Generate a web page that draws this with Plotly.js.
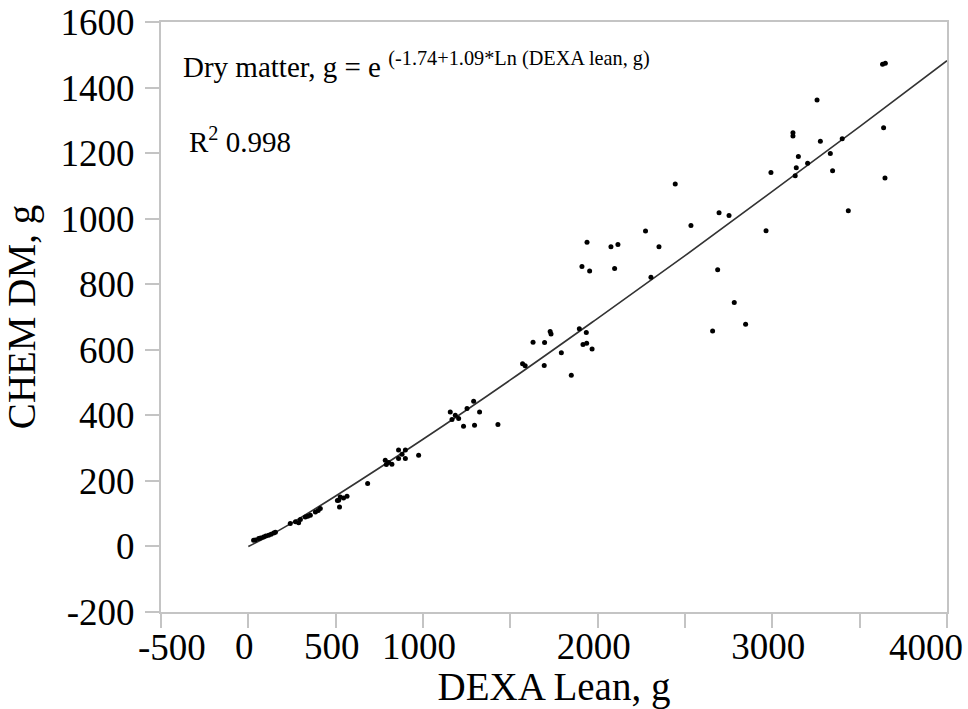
<!DOCTYPE html>
<html>
<head>
<meta charset="utf-8">
<script src="https://cdn.plot.ly/plotly-3.0.1.min.js"></script>
<style>html,body{margin:0;padding:0;background:#fff;}#chart{width:968px;height:709px;}</style>
</head>
<body>
<div id="chart"></div>
<script>
// Observed points: DEXA lean (g) vs chemical dry matter (g)
const dexaLean = [
  30, 40, 59, 70, 87, 100, 116, 130, 145, 155,
  240, 270, 288, 298, 326, 340, 355, 384, 400, 412,
  510, 517, 522, 526, 545, 565,
  683,
  784, 790, 803, 822,
  860, 899, 860, 899, 880,
  975,
  1156, 1166, 1185, 1204, 1232, 1252, 1290, 1295, 1324, 1429,
  1570, 1585, 1630, 1694, 1696, 1728, 1733, 1792, 1849, 1895, 1916, 1935, 1937, 1968,
  1910, 1939, 1954, 2076, 2097, 2116, 2274, 2305, 2351, 2444, 2534, 2658, 2687, 2695, 2752, 2782, 2847,
  2964, 2992, 3118, 3118, 3131, 3137, 3149, 3202, 3256, 3275, 3332, 3345, 3400, 3435, 3631, 3647, 3637, 3645
];
const chemDM = [
  19, 20, 24, 26, 29, 32, 34, 37, 41, 43,
  70, 75, 72, 82, 90, 92, 95, 105, 110, 116,
  140, 141, 120, 151, 148, 153,
  192,
  263, 250, 256, 251,
  294, 294, 268, 268, 281,
  278,
  410, 387, 400, 390, 367, 421, 443, 370, 410, 372,
  557, 551, 623, 552, 622, 656, 648, 591, 522, 664, 616, 653, 620, 602,
  854, 928, 840, 914, 848, 921, 962, 821, 914, 1106, 979, 657, 844, 1018, 1010, 744, 678,
  963, 1141, 1262, 1252, 1131, 1155, 1190, 1169, 1362, 1236, 1199, 1146, 1244, 1024, 1471, 1474, 1277, 1124
];
// Fitted curve as drawn in the figure
const fitX = [0, 100, 250, 500, 1000, 1500, 2000, 2500, 3000, 3500, 4000];
const fitY = [0, 27, 72, 154, 327, 508, 696, 887, 1083, 1281, 1482];

// x tick labels (the two end labels are nudged inward, as in the figure)
const xTickVals = [0, 500, 1000, 2000, 3000];
const xTickText = ['0', '500', '1000', '2000', '3000'];
const xEndLabelVals = [-500, 4000];
const xEndLabelText = ['-500', '4000'];
const yTickVals = [-200, 0, 200, 400, 600, 800, 1000, 1200, 1400, 1600];
const yTickText = ['-200', '0', '200', '400', '600', '800', '1000', '1200', '1400', '1600'];

const serif = "'Liberation Serif', 'Times New Roman', serif";
const gridGrey = '#c4c4c4';

const traces = [
  {
    x: fitX, y: fitY, type: 'scatter', mode: 'lines',
    line: {color: '#333333', width: 1.6, shape: 'spline'},
    hoverinfo: 'skip'
  },
  {
    x: dexaLean, y: chemDM, type: 'scatter', mode: 'markers',
    marker: {color: '#000000', size: 5}
  }
];

const axisCommon = {
  showgrid: false, zeroline: false,
  showline: true, linecolor: gridGrey, linewidth: 2, mirror: true,
  ticks: 'outside', ticklen: 14, tickcolor: gridGrey, tickwidth: 2,
  tickfont: {family: serif, size: 37, color: '#000'}
};

const endOffsets = [11, -21]; // px shift of end labels toward the inside
const endAnnotations = xEndLabelVals.map((v, i) => ({
  xref: 'x', yref: 'paper', x: v, y: -0.061, xanchor: 'center', yanchor: 'middle',
  xshift: endOffsets[i], showarrow: false, text: xEndLabelText[i],
  font: {family: serif, size: 37, color: '#000'}
}));

const layout = {
  width: 968, height: 709,
  margin: {l: 161, r: 21, t: 22, b: 97, pad: 0},
  paper_bgcolor: '#fff', plot_bgcolor: '#fff',
  showlegend: false,
  font: {family: serif, color: '#000'},
  xaxis: Object.assign({}, axisCommon, {
    range: [-500, 4000], tickmode: 'array', tickvals: xTickVals, ticktext: xTickText,
    ticklabelstandoff: -13, ticklabelshift: -4,
    minor: {ticks: 'outside', ticklen: 14, tickcolor: gridGrey, tickwidth: 2, tick0: 0, dtick: 500, showgrid: false},
    title: {text: 'DEXA Lean, g', font: {family: serif, size: 39, color: '#000'}, standoff: 0}
  }),
  yaxis: Object.assign({}, axisCommon, {
    range: [-200, 1600], tickmode: 'array', tickvals: yTickVals, ticktext: yTickText,
    ticklabelstandoff: 3,
    title: {text: 'CHEM DM, g', font: {family: serif, size: 39, color: '#000'}, standoff: 16}
  }),
  annotations: [
    {
      xref: 'x', yref: 'y', x: -385, y: 1470, xanchor: 'left', yanchor: 'middle',
      showarrow: false, align: 'left',
      text: 'Dry matter, g = e <sup>(-1.74+1.09*Ln (DEXA lean, g)</sup>',
      font: {family: serif, size: 29, color: '#000'}
    },
    {
      xref: 'x', yref: 'y', x: -349, y: 1240, xanchor: 'left', yanchor: 'middle',
      showarrow: false, align: 'left',
      text: 'R<sup>2</sup> 0.998',
      font: {family: serif, size: 29, color: '#000'}
    }
  ].concat(endAnnotations)
};

Plotly.newPlot('chart', traces, layout, {displayModeBar: false, staticPlot: true});
</script>
</body>
</html>
